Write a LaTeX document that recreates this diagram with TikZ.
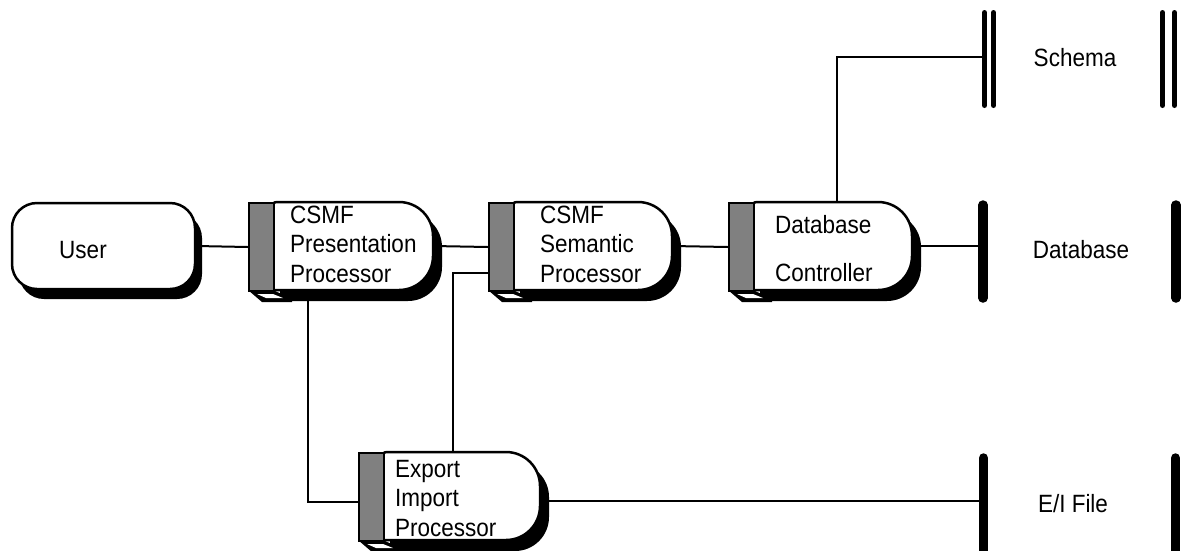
\documentclass[tikz,border=0pt]{standalone}
\usepackage{fontspec}
\setmainfont{Liberation Sans}[FakeStretch=0.9]
\definecolor{bargray}{RGB}{128,128,128}
\newcommand\lines[1]{\begin{tabular}[t]{@{}l@{}}#1\end{tabular}}
\newcommand\proc[4]{%
  \pgfmathsetmacro\pL{#2+23}%
  \pgfmathsetmacro\pT{#3}%
  \pgfmathsetmacro\pB{#3+88}%
  \pgfmathsetmacro\pR{#4}%
  \pgfmathsetmacro\pRr{#4-34}%
  \fill[black] ({\pL+9},{\pT+11}) -- ({\pRr+9},{\pT+11}) arc[start angle=-90,end angle=0,radius=34]
     -- ({\pR+9},{\pB-34+11}) arc[start angle=0,end angle=90,radius=34] -- ({\pL+9},{\pB+11}) -- cycle;
  \fill[black] (#2,\pB) -- ({#2+25},\pB) -- ({#2+44},{\pB+9}) -- ({#2+44},{\pB+12}) -- ({#2+14},{\pB+12}) -- cycle;
  \fill[white] ({#2+9},{\pB+4}) -- ({#2+25},{\pB+4}) -- ({#2+35},{\pB+8}) -- ({#2+18},{\pB+8}) -- cycle;
  \draw[outline, fill=white] (\pL,{\pT+6}) arc[start angle=180,end angle=270,radius=6]
     -- (\pRr,\pT) arc[start angle=-90,end angle=0,radius=34]
     -- (\pR,{\pB-34}) arc[start angle=0,end angle=90,radius=34] -- (\pL,\pB) -- cycle;
  \node[inner sep=0pt, minimum width={(\pR-\pL)*1pt}, minimum height=88pt] (#1) at ({(\pL+\pR)/2},{\pT+44}) {};
  \node[barbox, anchor=north west] (#1bar) at (#2,\pT) {};
}
\begin{document}
\begin{tikzpicture}[x=1pt,y=-1pt,
  conn/.style={line width=2pt},
  outline/.style={line width=2.5pt},
  barbox/.style={draw, line width=2pt, fill=bargray, minimum width=25pt, minimum height=88pt, inner sep=0pt},
  txt/.style={font=\fontsize{25}{29.5}\selectfont, inner sep=0pt},
  thinstore/.style={line width=5pt, line cap=round},
  thickstore/.style={line width=9.5pt, line cap=round}]
\useasboundingbox (0,0) rectangle (1183,550);

% User
\fill[black, rounded corners=25pt] (19,213) rectangle (202,299);
\node[draw, outline, fill=white, rounded corners=25pt, minimum width=183pt, minimum height=86pt, inner sep=0pt] (user) at (103.5,246) {};
\node[txt, anchor=base] (usertext) at (83,258) {User};

% processors
\proc{pres}{248}{202}{433}
\node[txt, anchor=base west] (prestext) at (290,223) {\lines{CSMF\\Presentation\\Processor}};
\proc{sem}{488}{202}{672}
\node[txt, anchor=base west] (semtext) at (540,223) {\lines{CSMF\\Semantic\\Processor}};
\proc{dbc}{728}{202}{912}
\node[txt, anchor=base west] (dbctext) at (775,233) {\lines{Database\\[18.5pt]Controller}};
\proc{exp}{358}{452}{540}
\node[txt, anchor=base west] (exptext) at (395,477) {\lines{Export\\Import\\Processor}};

% stores
\draw[thinstore] (984.5,12.5) -- (984.5,105.5);
\draw[thinstore] (993.5,12.5) -- (993.5,105.5);
\draw[thinstore] (1162.5,12.5) -- (1162.5,105.5);
\draw[thinstore] (1174.5,12.5) -- (1174.5,105.5);
\node[txt, anchor=base] (schema) at (1075,66) {Schema};
\coordinate (schemaIn) at (982,57);

\draw[thickstore] (983,205) -- (983,298);
\draw[thickstore] (1176,205) -- (1176,298);
\node[txt, anchor=base] (database) at (1081,258) {Database};
\coordinate (dbIn) at (978,246);

\draw[thickstore] (983.5,458) -- (983.5,570);
\draw[thickstore] (1175.5,458) -- (1175.5,570);
\node[txt, anchor=base] (eifile) at (1073,512) {E/I File};
\coordinate (eiIn) at (979,501);

% connectors
\draw[conn] (user.east) -- (presbar.west);
\draw[conn] (pres.east) -- (sembar.west);
\draw[conn] (sem.east) -- (dbcbar.west);
\draw[conn] (dbc.east) -- (dbIn);
\draw[conn] ([xshift=5.5pt]dbc.north) |- (schemaIn);
\draw[conn] ([yshift=-26pt]sembar.west) -| ([xshift=-8pt]exp.north);
\draw[conn] ([xshift=-44pt]pres.south) |- ([yshift=-5pt]expbar.west);
\draw[conn] ([yshift=-5pt]exp.east) -- (eiIn);
\end{tikzpicture}
\end{document}
